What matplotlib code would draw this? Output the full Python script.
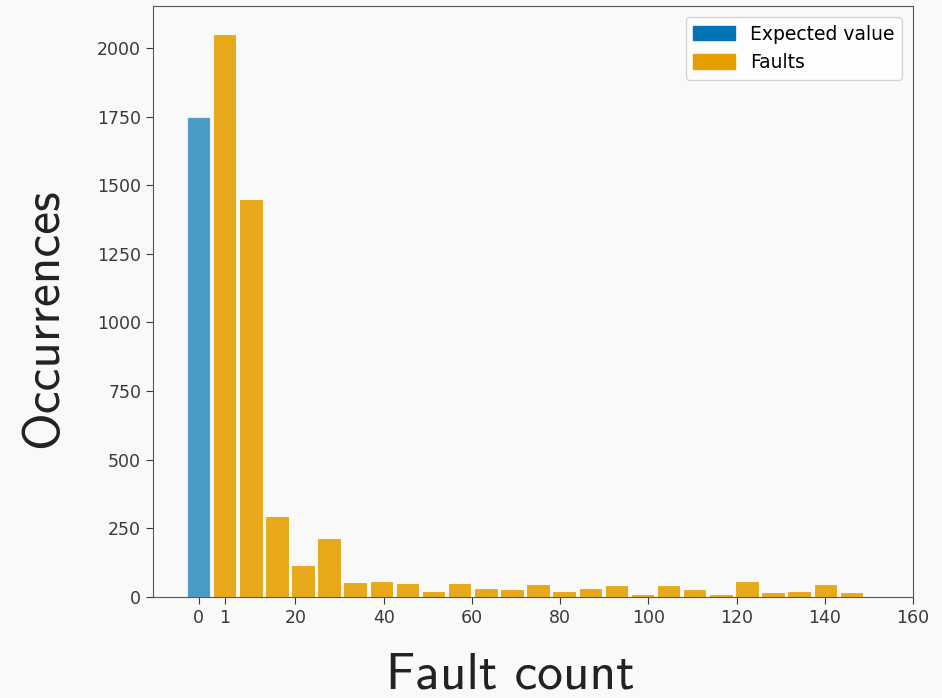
import matplotlib
matplotlib.use('Agg')
import matplotlib.pyplot as plt
from matplotlib.patches import Patch
import numpy as np

# histogram of fault counts (25 bins between 1 and 149)
fault_min = 1
fault_max = 149
n_bins = 25
fault_counts = [2050, 1450, 295, 116, 215, 55, 57, 50, 21, 51,
                34, 28, 46, 22, 32, 43, 12, 44, 28, 11,
                58, 17, 23, 46, 17]
expected_count = 1750

xtick_values = [20, 40, 60, 80, 100, 120, 140, 160]

blue = '#0173b2'
orange = '#e69f00'
bg = '#f9f9f9'

edges = np.linspace(fault_min, fault_max, n_bins + 1)
width = edges[1] - edges[0]
centers = (edges[:-1] + edges[1:]) / 2
expected_pos = centers[0] - width

fig = plt.figure(figsize=(9.42, 6.98), dpi=100, facecolor=bg)
ax = fig.add_axes([0.1624, 0.1447, 0.8068, 0.8467], facecolor=bg)

ax.hist([expected_pos], bins=[expected_pos - width / 2, expected_pos + width / 2],
        weights=[expected_count], rwidth=0.9, color=blue, alpha=0.7,
        edgecolor='white', linewidth=0.8)
ax.hist(centers, bins=edges, weights=fault_counts, rwidth=0.9,
        color=orange, alpha=0.9, edgecolor='white', linewidth=0.8)

ax.set_xticks([expected_pos, centers[0]] + xtick_values)
ax.set_xticklabels(['0', '1'] + [str(v) for v in xtick_values])
ax.tick_params(labelsize=12.5, colors='#3a3a3a', length=5)
for s in ax.spines.values():
    s.set_color('#555555')

ax.set_xlabel('Fault count', fontfamily='cmss10', fontsize=37, color='#222222')
ax.set_ylabel('Occurrences', fontfamily='cmss10', fontsize=37, color='#222222')
ax.xaxis.set_label_coords(0.47, -0.094)
ax.yaxis.set_label_coords(-0.113, 0.472)

handles = [Patch(color=blue, label='Expected value'),
           Patch(color=orange, label='Faults')]
ax.legend(handles=handles, loc='upper right', fontsize=13.5, facecolor='white',
          framealpha=0.8, handlelength=2.2, handleheight=0.8, borderaxespad=0.6)

fig.savefig('out.png', dpi=100, facecolor=bg)
